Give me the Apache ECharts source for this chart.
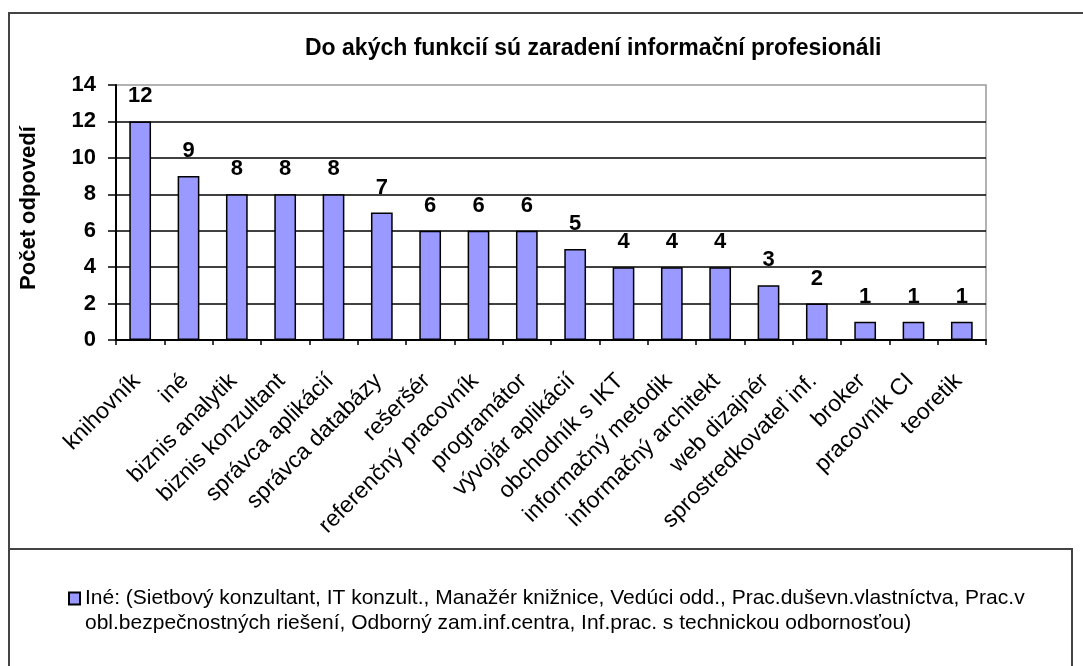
<!DOCTYPE html>
<html>
<head>
<meta charset="utf-8">
<script src="https://cdn.jsdelivr.net/npm/echarts@6/dist/echarts.min.js"></script>
<style>
html,body{margin:0;padding:0;background:#fff;}
#chart{width:1083px;height:666px;}
</style>
</head>
<body>
<div id="chart"></div>
<script>
const titleText = 'Do akých funkcií sú zaradení informační profesionáli';
const yAxisName = 'Počet odpovedí';
const categories = ['knihovník', 'iné', 'biznis analytik', 'biznis konzultant', 'správca aplikácií', 'správca databázy', 'rešeršér', 'referenčný pracovník', 'programátor', 'vývojár aplikácií', 'obchodník s IKT', 'informačný metodik', 'informačný architekt', 'web dizajnér', 'sprostredkovateľ inf.', 'broker', 'pracovník CI', 'teoretik'];
const values = [12, 9, 8, 8, 8, 7, 6, 6, 6, 5, 4, 4, 4, 3, 2, 1, 1, 1];
const seriesName = 'Iné: (Sietbový konzultant, IT konzult., Manažér knižnice, Vedúci odd., Prac.duševn.vlastníctva, Prac.v obl.bezpečnostných riešení, Odborný zam.inf.centra, Inf.prac. s technickou odbornosťou)';
const yMin = 0, yMax = 14, yStep = 2;

const FONT = '"Liberation Sans", Arial, sans-serif';
const chart = echarts.init(document.getElementById('chart'), null, {renderer: 'canvas'});
const frame = '#444';
chart.setOption({
  backgroundColor: '#fff',
  animation: false,
  textStyle: {fontFamily: FONT},
  title: {
    text: titleText,
    left: 305,
    top: 37,
    padding: 0,
    textStyle: {fontSize: 23, fontWeight: 'bold', color: '#000', fontFamily: FONT}
  },
  legend: {
    data: [seriesName],
    left: 68,
    top: 561,
    padding: 0,
    itemWidth: 11,
    itemHeight: 12,
    icon: 'rect',
    formatter: function (n) { return '\n' + n.replace('Prac.v obl.', 'Prac.v\nobl.'); },
    textStyle: {fontSize: 21, color: '#000', fontFamily: FONT, lineHeight: 25}
  },
  grid: {
    left: 116, top: 85, right: 97, bottom: 326,
    show: true, borderColor: '#999', borderWidth: 1.5, containLabel: false
  },
  xAxis: {
    type: 'category',
    data: categories,
    axisLine: {lineStyle: {color: '#000', width: 2}},
    axisTick: {show: true, length: 5, lineStyle: {color: '#000', width: 1.5}},
    axisLabel: {
      interval: 0, rotate: 45, fontSize: 23, color: '#000', margin: 34,
      padding: [0, 5, 0, 0], fontFamily: FONT
    }
  },
  yAxis: {
    type: 'value',
    min: yMin, max: yMax, interval: yStep,
    name: yAxisName,
    nameLocation: 'middle',
    nameGap: 76,
    nameTextStyle: {fontSize: 22, fontWeight: 'bold', color: '#000', fontFamily: FONT, padding: [0, 0, 0, 9]},
    axisLine: {show: true, lineStyle: {color: '#000', width: 2}},
    axisTick: {show: true, length: 8, lineStyle: {color: '#000', width: 1.5}},
    axisLabel: {fontSize: 22, fontWeight: 'bold', color: '#000', margin: 20, fontFamily: FONT},
    splitLine: {show: true, showMinLine: false, showMaxLine: false, lineStyle: {color: '#000', width: 1.5}}
  },
  series: [{
    name: seriesName,
    type: 'bar',
    data: values,
    barWidth: '45%',
    itemStyle: {color: '#9999FF', borderColor: '#000', borderWidth: 1.5},
    label: {show: true, position: 'top', distance: 14, fontSize: 22, fontWeight: 'bold', color: '#000', fontFamily: FONT}
  }],
  graphic: [
    {type: 'line', shape: {x1: 9, y1: 13, x2: 1083, y2: 13}, style: {stroke: frame, lineWidth: 2}},
    {type: 'line', shape: {x1: 9, y1: 12, x2: 9, y2: 666}, style: {stroke: frame, lineWidth: 2}},
    {type: 'line', shape: {x1: 9, y1: 549, x2: 1072, y2: 549}, style: {stroke: frame, lineWidth: 2}},
    {type: 'line', shape: {x1: 1072, y1: 548, x2: 1072, y2: 666}, style: {stroke: frame, lineWidth: 2}}
  ]
});
</script>
</body>
</html>
